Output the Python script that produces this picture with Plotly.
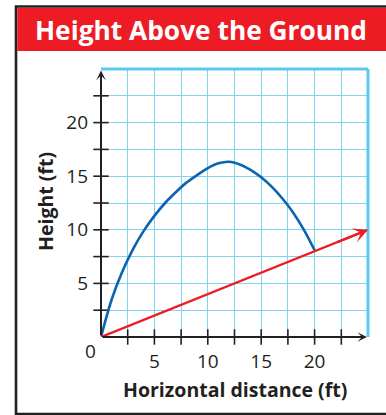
import plotly.graph_objects as go

# ---- data ----
blue_x = [0, 1, 2, 3, 4, 5, 6, 7, 8, 9, 10, 11, 12, 13, 14, 15, 16, 17, 18, 19, 20]
blue_y = [0, 3.5, 6.1, 8.2, 9.9, 11.3, 12.5, 13.5, 14.4, 15.1, 15.75, 16.2, 16.35, 16.1,
          15.6, 14.9, 14.0, 12.9, 11.6, 10.0, 8.1]
red_x = [0, 25]
red_y = [0, 10]
grid_vals = [0, 2.5, 5, 7.5, 10, 12.5, 15, 17.5, 20, 22.5, 25]
tick_labels = ["", "", "5", "", "10", "", "15", "", "20", "", ""]
minor_ticks = [2.5, 5, 7.5, 10, 12.5, 15, 17.5, 20, 22.5]

title_text = "Height Above the Ground"
x_title = "Horizontal distance (ft)"
y_title = "Height (ft)"

# ---- layout geometry (pixels) ----
W, H = 386, 415
L, R, T, B = 101, 18, 69, 78
PW, PH = W - L - R, H - T - B

def px(xp):
    return (xp - L) / PW

def py(yp):
    return (H - B - yp) / PH

INK = "#231f20"
GRID = "#80d4f2"
EDGE = "#5cc8f0"
BLUE = "#0a64b0"
RED = "#ed1c24"
FONT = "Open Sans"

fig = go.Figure()

# tick marks crossing the axes
fig.add_trace(go.Scatter(x=minor_ticks, y=[0] * len(minor_ticks), mode="markers",
                         marker=dict(symbol="line-ns", size=11, line=dict(width=1.6, color=INK)),
                         cliponaxis=False, hoverinfo="skip", showlegend=False))
fig.add_trace(go.Scatter(x=[0] * len(minor_ticks), y=minor_ticks, mode="markers",
                         marker=dict(symbol="line-ew", size=11, line=dict(width=1.6, color=INK)),
                         cliponaxis=False, hoverinfo="skip", showlegend=False))

fig.add_trace(go.Scatter(x=blue_x, y=blue_y, mode="lines",
                         line=dict(color=BLUE, width=2.6, shape="spline", smoothing=1.0),
                         showlegend=False))
fig.add_trace(go.Scatter(x=red_x, y=red_y, mode="lines",
                         line=dict(color=RED, width=2.4), showlegend=False))

axis_common = dict(range=[0, 25], tickmode="array", tickvals=grid_vals, ticktext=tick_labels,
                   showgrid=True, gridcolor=GRID, gridwidth=1.3, zeroline=False,
                   showline=False, ticks="", fixedrange=True, automargin=False,
                   tickfont=dict(family=FONT, size=19, color=INK))

fig.update_layout(
    width=W, height=H,
    margin=dict(l=L, r=R, t=T, b=B),
    paper_bgcolor="white", plot_bgcolor="white",
    xaxis=dict(**axis_common, ticklabelstandoff=11),
    yaxis=dict(**axis_common, ticklabelstandoff=12),
    showlegend=False,
)

shapes = [
    # outer frame
    dict(type="rect", xref="paper", yref="paper", x0=px(16), x1=px(430), y0=py(6.5), y1=py(414),
         line=dict(color=INK, width=2.6), fillcolor="rgba(0,0,0,0)", layer="below"),
    # red title bar
    dict(type="rect", xref="paper", yref="paper", x0=px(17.3), x1=px(430), y0=py(8), y1=py(51),
         line=dict(width=0), fillcolor=RED, layer="below"),
    # top and right grid border
    dict(type="line", xref="paper", yref="paper", x0=0, x1=1, y0=1, y1=1,
         line=dict(color=EDGE, width=3)),
    dict(type="line", xref="paper", yref="paper", x0=1, x1=1, y0=0, y1=1,
         line=dict(color=EDGE, width=3)),
]
fig.update_layout(shapes=shapes)

ann = [
    dict(text="<b>" + title_text + "</b>", xref="paper", yref="paper", x=px(200.5), y=py(30),
         showarrow=False, font=dict(family=FONT, size=26.3, color="white"),
         xanchor="center", yanchor="middle"),
    dict(text="<b>" + x_title + "</b>", xref="paper", yref="paper", x=px(235), y=py(389),
         showarrow=False, font=dict(family=FONT, size=19.5, color=INK),
         xanchor="center", yanchor="middle"),
    dict(text="<b>" + y_title + "</b>", xref="paper", yref="paper", x=px(45), y=py(202),
         showarrow=False, textangle=-90, font=dict(family=FONT, size=19.5, color=INK),
         xanchor="center", yanchor="middle"),
    dict(text="0", x=0, y=0, xref="x", yref="y", showarrow=False, xshift=-10.5, yshift=-14,
         font=dict(family=FONT, size=19, color=INK), xanchor="center", yanchor="middle"),
    # axis arrows
    dict(x=24.9, y=0, ax=0, ay=0, xref="x", yref="y", axref="x", ayref="y", text="",
         showarrow=True, arrowhead=3, arrowwidth=2, arrowsize=0.8, arrowcolor=INK, standoff=0),
    dict(x=0, y=24.85, ax=0, ay=0, xref="x", yref="y", axref="x", ayref="y", text="",
         showarrow=True, arrowhead=3, arrowwidth=2, arrowsize=0.8, arrowcolor=INK, standoff=0),
    # red arrow head
    dict(x=red_x[-1], y=red_y[-1], ax=red_x[-1] - 3, ay=red_y[-1] - 1.2, xref="x", yref="y",
         axref="x", ayref="y", text="", showarrow=True, arrowhead=3, arrowwidth=2.4,
         arrowsize=1.05, arrowcolor=RED, standoff=0),
]
fig.update_layout(annotations=ann)

fig.write_html("out.html", config={"displayModeBar": False},
               post_script="document.body.style.margin='0';document.body.style.overflow='hidden';")
